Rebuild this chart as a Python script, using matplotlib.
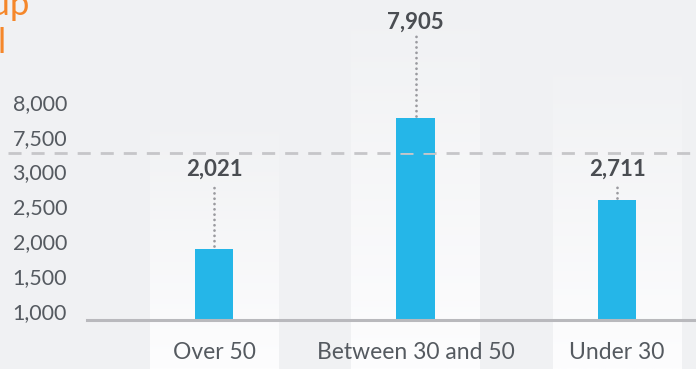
import matplotlib.pyplot as plt
import matplotlib.transforms as mtransforms
import numpy as np

# data
categories = ["Over 50", "Between 30 and 50", "Under 30"]
values = [2021, 7905, 2711]
lower_ticks = [1000, 1500, 2000, 2500, 3000]
upper_ticks = [7500, 8000]

bg = "#f0f1f3"
bar_color = "#25b6e8"
text_grey = "#555a60"
orange = "#f5872a"

W, H = 696, 369
fig = plt.figure(figsize=(W / 100, H / 100), dpi=100, facecolor=bg)
plt.rcParams["font.family"] = ["Lato", "DejaVu Sans"]

x = np.arange(len(categories))
xlim = (-214 / 201.5, (W - 214) / 201.5)

# background with light gradient columns behind each bar
ax_bg = fig.add_axes([0, 0, 1, 1])
ax_bg.set_facecolor(bg)
ax_bg.axis("off")
col_tops = [112, 0, 50]
grad = np.linspace(0, 1, 256).reshape(-1, 1)
c_top = np.array([0xf0, 0xf1, 0xf3]) / 255
c_bot = np.array([0xfd, 0xfd, 0xfe]) / 255
img = c_top[None, None, :] * (1 - grad[..., None]) + c_bot[None, None, :] * grad[..., None]
for xi, top in zip(x, col_tops):
    ax_bg.imshow(img, extent=(xi - 0.318, xi + 0.318, H, top), aspect="auto",
                 interpolation="bilinear", zorder=0)
ax_bg.set_xlim(xlim)
ax_bg.set_ylim(H, 0)

base_px, brk_px = 320, 153
scale = 0.07  # px per unit
lo_min = 1000
lo_max = lo_min + (base_px - brk_px) / scale
up_min = 7400
up_max = up_min + brk_px / scale

ax_lo = fig.add_axes([0, (H - base_px) / H, 1, (base_px - brk_px) / H])
ax_up = fig.add_axes([0, (H - brk_px) / H, 1, brk_px / H])
for ax, lim in ((ax_lo, (lo_min, lo_max)), (ax_up, (up_min, up_max))):
    ax.patch.set_alpha(0)
    ax.set_xlim(xlim)
    ax.set_ylim(lim)
    for s in ax.spines.values():
        s.set_visible(False)
    ax.set_yticks([])
    ax.bar(x, values, width=0.189, color=bar_color, zorder=3)

ax_up.set_xticks([])
ax_lo.set_xticks(x)
ax_lo.set_xticklabels(categories, fontsize=16.5, color=text_grey)
ax_lo.tick_params(axis="x", length=0, pad=16)

# y tick labels
off = mtransforms.ScaledTranslation(0, 7 / 100, fig.dpi_scale_trans)
for ax, ticks in ((ax_lo, lower_ticks), (ax_up, upper_ticks)):
    tr = mtransforms.blended_transform_factory(ax.transAxes, ax.transData) + off
    for t in ticks:
        ax.text(67 / W, t, f"{t:,}", transform=tr, ha="right", va="center",
                fontsize=15.5, color=text_grey)

# baseline and break line
ax_lo.axhline(lo_min, xmin=87 / W, xmax=1, color="#b9b9bd", lw=2.2, clip_on=False, zorder=4)
ax_lo.axhline(lo_max, xmin=8 / W, xmax=1, color="#c6c6c9", lw=2, ls=(0, (4.7, 3.6)),
              clip_on=False, zorder=4)

# value labels with dotted leaders
for xi, v in zip(x, values):
    if v > lo_max:
        ax, ly = ax_up, up_min + (brk_px - 22) / scale
    else:
        ax, ly = ax_lo, lo_min + (base_px - 169) / scale
    ax.text(xi, ly, f"{v:,}", ha="center", va="center", fontsize=16,
            fontweight="bold", color="#4a4d52", zorder=5)
    y_end = ly - 14 / scale
    ax.plot([xi, xi], [v + 30, y_end], color="#9a9a9f", lw=2,
            ls=(0, (0.01, 1.9)), dash_capstyle="round", zorder=4)

# clipped title at top left
ax_bg.text(29 / W, 1 - 15 / H, "Age group", transform=fig.transFigure, ha="right",
           va="baseline", fontsize=25, color=orange)
ax_bg.text(7 / W, 1 - 53 / H, "Total", transform=fig.transFigure, ha="right",
           va="baseline", fontsize=25, color=orange)

fig.savefig("out.png", dpi=100, facecolor=bg)
